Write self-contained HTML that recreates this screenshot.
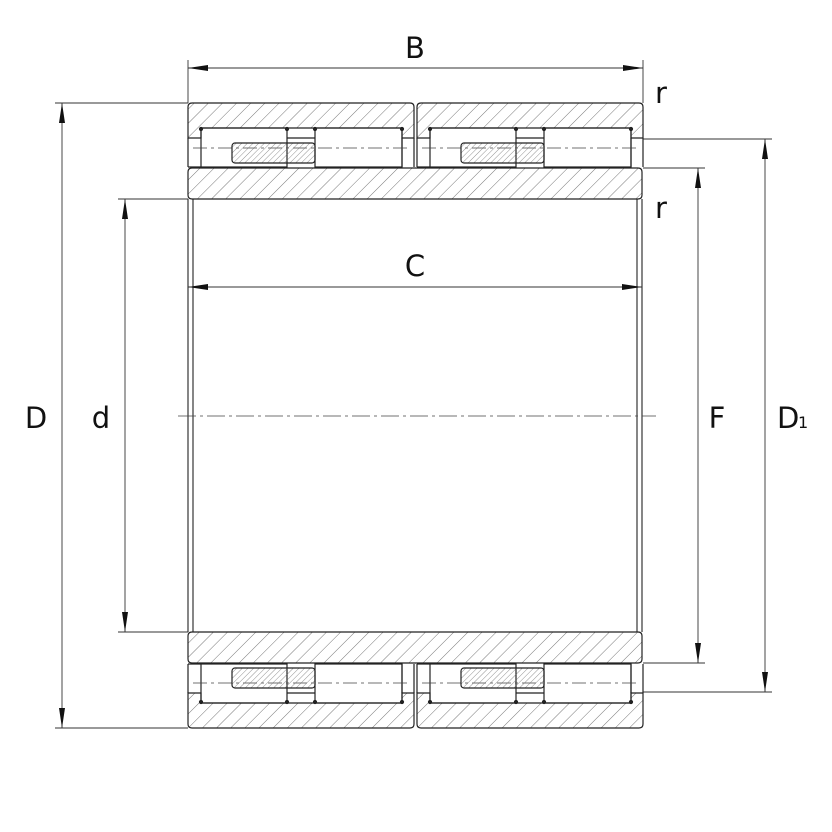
<!DOCTYPE html>
<html><head><meta charset="utf-8"><style>
html,body{margin:0;padding:0;background:#fff;}
svg{display:block;}
text{font-family:"DejaVu Sans","Liberation Sans",sans-serif;fill:#111;}
</style></head><body>
<svg width="832" height="832" viewBox="0 0 832 832" xmlns="http://www.w3.org/2000/svg">
<defs>
<pattern id="h" patternUnits="userSpaceOnUse" width="10" height="10" patternTransform="rotate(45)">
<line x1="0" y1="0" x2="0" y2="10" stroke="#555" stroke-width="0.8"/>
</pattern>
<pattern id="hb" patternUnits="userSpaceOnUse" width="10" height="10" patternTransform="rotate(-45)">
<line x1="0" y1="0" x2="0" y2="10" stroke="#555" stroke-width="0.8"/>
</pattern>
<pattern id="h2" patternUnits="userSpaceOnUse" width="4" height="4" patternTransform="rotate(45)">
<line x1="0" y1="0" x2="0" y2="4" stroke="#666" stroke-width="0.7"/>
</pattern>
<pattern id="h2b" patternUnits="userSpaceOnUse" width="4" height="4" patternTransform="rotate(-45)">
<line x1="0" y1="0" x2="0" y2="4" stroke="#666" stroke-width="0.7"/>
</pattern>
<marker id="a" viewBox="0 0 20 6" refX="20" refY="3" markerWidth="20" markerHeight="6" markerUnits="userSpaceOnUse" orient="auto-start-reverse">
<path d="M0,0 L20,3 L0,6 z" fill="#111"/>
</marker>
<g id="common" stroke="#222" stroke-width="1.2" fill="none">
<path d="M402,138 V167 M414,138 V167"/>
<rect x="201" y="128" width="86" height="39"/>
<rect x="315" y="128" width="87" height="39"/>
<path d="M287,138 H315" />
<circle cx="201" cy="129" r="1.5" fill="#222"/>
<circle cx="287" cy="129" r="1.5" fill="#222"/>
<circle cx="315" cy="129" r="1.5" fill="#222"/>
<circle cx="402" cy="129" r="1.5" fill="#222"/>
<path d="M188,138 V167 M188,167 H201" />
<line x1="193" y1="148" x2="410" y2="148" stroke="#444" stroke-width="0.8" stroke-dasharray="14,4,3,4"/>
</g>
<g id="half" stroke="#222" stroke-width="1.2">
<path d="M192,103 H410 Q414,103 414,107 V138 H402 V128 H201 V138 H188 V107 Q188,103 192,103 Z" fill="url(#h)"/>
<use href="#common"/>
<rect x="232" y="143" width="83" height="20" rx="3" fill="url(#h2)"/>
</g>
<g id="halfB" stroke="#222" stroke-width="1.2">
<path d="M192,103 H410 Q414,103 414,107 V138 H402 V128 H201 V138 H188 V107 Q188,103 192,103 Z" fill="url(#hb)"/>
<use href="#common"/>
<rect x="232" y="143" width="83" height="20" rx="3" fill="url(#h2b)"/>
</g>
<path id="innerShape" d="M192,168 H638 Q642,168 642,172 V195 Q642,199 638,199 H192 Q188,199 188,195 V172 Q188,168 192,168 Z" stroke="#222" stroke-width="1.2"/>
</defs>

<use href="#half"/>
<use href="#half" transform="translate(229,0)"/>
<use href="#innerShape" fill="url(#h)"/>
<g transform="translate(0,831) scale(1,-1)">
<use href="#halfB"/>
<use href="#halfB" transform="translate(229,0)"/>
<use href="#innerShape" fill="url(#hb)"/>
</g>

<g stroke="#222" stroke-width="1.1" fill="none">
<line x1="188" y1="199" x2="188" y2="632"/>
<line x1="193" y1="199" x2="193" y2="632"/>
<line x1="637" y1="199" x2="637" y2="632"/>
<line x1="642" y1="199" x2="642" y2="632"/>
</g>
<line x1="178" y1="416" x2="656" y2="416" stroke="#444" stroke-width="0.8" stroke-dasharray="18,4,3,4"/>

<g stroke="#333" stroke-width="0.9" fill="none">
<line x1="188" y1="60" x2="188" y2="103"/>
<line x1="643" y1="60" x2="643" y2="103"/>
<line x1="188" y1="68" x2="643" y2="68" marker-start="url(#a)" marker-end="url(#a)"/>
<line x1="55" y1="103" x2="188" y2="103"/>
<line x1="55" y1="728" x2="188" y2="728"/>
<line x1="62" y1="103" x2="62" y2="728" marker-start="url(#a)" marker-end="url(#a)"/>
<line x1="118" y1="199" x2="188" y2="199"/>
<line x1="118" y1="632" x2="188" y2="632"/>
<line x1="125" y1="199" x2="125" y2="632" marker-start="url(#a)" marker-end="url(#a)"/>
<line x1="188" y1="287" x2="642" y2="287" marker-start="url(#a)" marker-end="url(#a)"/>
<line x1="643" y1="168" x2="705" y2="168"/>
<line x1="643" y1="663" x2="705" y2="663"/>
<line x1="698" y1="168" x2="698" y2="663" marker-start="url(#a)" marker-end="url(#a)"/>
<line x1="643" y1="139" x2="772" y2="139"/>
<line x1="643" y1="692" x2="772" y2="692"/>
<line x1="765" y1="139" x2="765" y2="692" marker-start="url(#a)" marker-end="url(#a)"/>
</g>

<g font-size="29">
<text x="415" y="58" text-anchor="middle">B</text>
<text x="415" y="276" text-anchor="middle">C</text>
<text x="36" y="428" text-anchor="middle">D</text>
<text x="101" y="428" text-anchor="middle">d</text>
<text x="717" y="428" text-anchor="middle">F</text>
<text x="777" y="428">D</text>
<text x="798" y="428" font-size="16">1</text>
<text x="655" y="103">r</text>
<text x="655" y="218">r</text>
</g>
</svg>
</body></html>
